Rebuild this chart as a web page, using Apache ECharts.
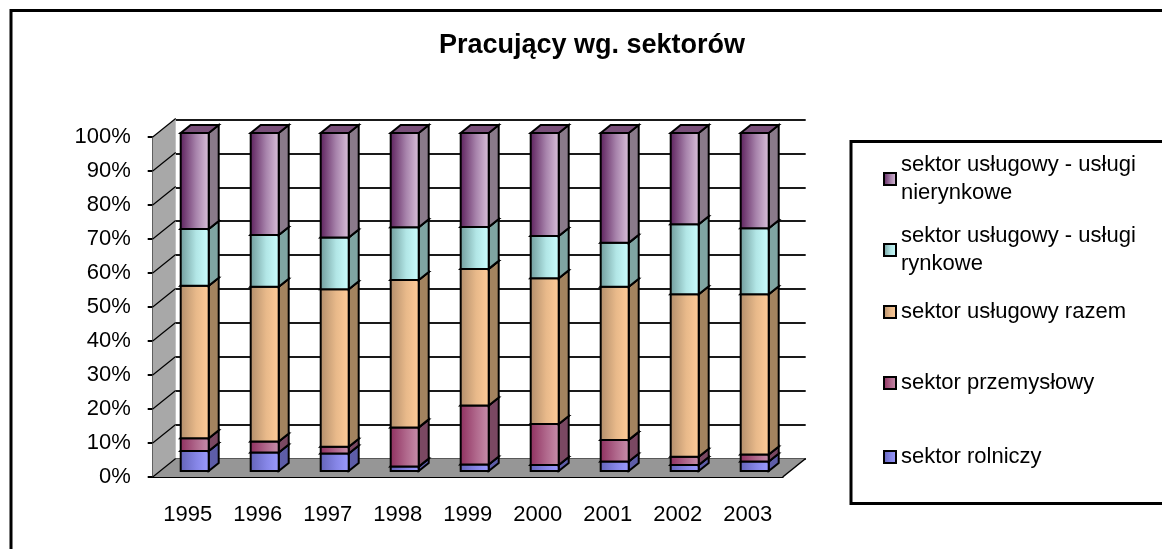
<!DOCTYPE html>
<html>
<head>
<meta charset="utf-8">
<title>Pracujący wg. sektorów</title>
<script src="https://cdn.jsdelivr.net/npm/echarts@6/dist/echarts.min.js"></script>
<style>
  html, body { margin: 0; padding: 0; background: #fff; }
  #chart { width: 1162px; height: 549px; }
</style>
</head>
<body>
<div id="chart"></div>
<script>
// data (share of employed, %)
const years = ['1995', '1996', '1997', '1998', '1999', '2000', '2001', '2002', '2003'];
const rolniczy = [5.9, 5.5, 5.2, 1.3, 1.9, 1.8, 2.8, 1.8, 2.8];
const przemyslowy = [3.8, 3.2, 2.0, 11.6, 17.5, 12.1, 6.4, 2.4, 2.1];
const uslugowyRazem = [45.1, 45.8, 46.6, 43.6, 40.4, 43.1, 45.3, 48.1, 47.4];
const uslugiRynkowe = [16.8, 15.3, 15.3, 15.6, 12.4, 12.5, 13.0, 20.7, 19.5];
const uslugiNierynkowe = [28.4, 30.2, 30.9, 27.9, 27.8, 30.5, 32.5, 27.0, 28.2];
const yTicks = [0, 10, 20, 30, 40, 50, 60, 70, 80, 90, 100];

const FONT = '"Liberation Sans", Arial, sans-serif';
// 3d look
const BAR_DX = 10, BAR_DY = -8;
const WALL_DX = 23, WALL_DY = -18.5;

const sectors = [
  { name: 'sektor rolniczy', values: rolniczy,
    front: ['#6363b8', '#8585e6', '#9c9cff'], side: '#5d5da8', top: '#7a7ad0' },
  { name: 'sektor przemysłowy', values: przemyslowy,
    front: ['#8e2e5e', '#b0688c', '#c890ac'], side: '#7a4862', top: '#9a4c74' },
  { name: 'sektor usługowy razem', values: uslugowyRazem,
    front: ['#b08c6a', '#e8b98a', '#ffcc99'], side: '#a3835f', top: '#c99c72' },
  { name: 'sektor usługowy - usługi rynkowe', values: uslugiRynkowe,
    front: ['#6f9a9a', '#b2e6e6', '#ccffff'], side: '#7fa5a2', top: '#94c4c4' },
  { name: 'sektor usługowy - usługi nierynkowe', values: uslugiNierynkowe,
    front: ['#5a1e5a', '#a884ac', '#dcc4dc'], side: '#8a7a8a', top: '#7a507a' }
];

function hGrad(c) {
  return { type: 'linear', x: 0, y: 0, x2: 1, y2: 0,
    colorStops: [{ offset: 0, color: c[0] }, { offset: 0.55, color: c[1] }, { offset: 1, color: c[2] }] };
}

// 100% stacking
const totals = years.map((y, i) => sectors.reduce((s, sec) => s + sec.values[i], 0));
const bases = years.map(() => 0);
const barSeries = sectors.map(sec => {
  const data = years.map((y, i) => {
    const lo = bases[i];
    const hi = lo + sec.values[i] / totals[i] * 100;
    bases[i] = hi;
    return [i, lo, hi];
  });
  return {
    type: 'custom',
    name: sec.name,
    xAxisIndex: 2,
    yAxisIndex: 2,
    itemStyle: { color: sec.front[2] },
    data: data,
    renderItem: function (params, api) {
      const cat = api.value(0);
      const a = api.coord([cat, api.value(1)]);
      const b = api.coord([cat, api.value(2)]);
      const w = api.size([1, 0])[0] * 0.4;
      const x0 = a[0] - w / 2, x1 = a[0] + w / 2, y0 = a[1], y1 = b[1];
      return {
        type: 'group',
        children: [
          { type: 'polygon',
            shape: { points: [[x1, y0], [x1 + BAR_DX, y0 + BAR_DY], [x1 + BAR_DX, y1 + BAR_DY], [x1, y1]] },
            style: { fill: sec.side, stroke: '#000', lineWidth: 2 } },
          { type: 'polygon',
            shape: { points: [[x0, y1], [x1, y1], [x1 + BAR_DX, y1 + BAR_DY], [x0 + BAR_DX, y1 + BAR_DY]] },
            style: { fill: sec.top, stroke: '#000', lineWidth: 2 } },
          { type: 'rect',
            shape: { x: x0, y: y1, width: w, height: y0 - y1 },
            style: { fill: hGrad(sec.front), stroke: '#000', lineWidth: 2 } }
        ]
      };
    }
  };
});

// side wall + floor, drawn on the front plane
const wallSeries = {
  type: 'custom',
  name: 'walls',
  xAxisIndex: 0,
  yAxisIndex: 0,
  silent: true,
  data: [[0, 0]],
  renderItem: function (params, api) {
    const band = api.size([1, 0])[0];
    const p0 = api.coord([0, 0]);
    const left = p0[0] - band / 2;
    const right = api.coord([years.length - 1, 0])[0] + band / 2;
    const bottom = p0[1];
    const topY = api.coord([0, 100])[1];
    const children = [
      { type: 'polygon',
        shape: { points: [[left, bottom], [left, topY], [left + WALL_DX, topY + WALL_DY], [left + WALL_DX, bottom + WALL_DY]] },
        style: { fill: '#a8a8a8' } },
      { type: 'polygon',
        shape: { points: [[left, bottom], [right, bottom], [right + WALL_DX, bottom + WALL_DY], [left + WALL_DX, bottom + WALL_DY]] },
        style: { fill: '#969696' } },
      { type: 'line',
        shape: { x1: right, y1: bottom, x2: right + WALL_DX, y2: bottom + WALL_DY },
        style: { stroke: '#000', lineWidth: 1.5 } }
    ];
    yTicks.forEach(t => {
      const y = api.coord([0, t])[1];
      children.push({ type: 'line',
        shape: { x1: left, y1: y, x2: left + WALL_DX, y2: y + WALL_DY },
        style: { stroke: '#000', lineWidth: 1.2 } });
    });
    return { type: 'group', children: children };
  }
};

const legendTops = [151, 222, 298, 369, 443];
const legends = sectors.slice().reverse().map((sec, k) => ({
  orient: 'vertical',
  left: 883,
  top: legendTops[k],
  padding: 0,
  itemWidth: 12,
  itemHeight: 12,
  selectedMode: false,
  formatter: name => name.replace(' - usługi ', ' - usługi\n'),
  textStyle: { fontFamily: FONT, fontSize: 22, lineHeight: 28, color: '#000' },
  data: [{ name: sec.name, icon: 'rect',
    itemStyle: { color: hGrad(sec.front), borderColor: '#000', borderWidth: 2 } }]
}));

const chart = echarts.init(document.getElementById('chart'));
chart.setOption({
  backgroundColor: '#fff',
  animation: false,
  title: {
    text: 'Pracujący wg. sektorów',
    left: 587,
    top: 27,
    textAlign: 'center',
    textStyle: { fontFamily: FONT, fontSize: 27, fontWeight: 'bold', color: '#000' }
  },
  legend: legends,
  graphic: [
    { type: 'rect', z: -10, shape: { x: 11, y: 10.5, width: 1200, height: 600 },
      style: { fill: 'none', stroke: '#000', lineWidth: 3 } },
    { type: 'rect', z: -10, shape: { x: 851, y: 141.5, width: 400, height: 362 },
      style: { fill: '#fff', stroke: '#000', lineWidth: 3 } }
  ],
  grid: [
    // front (axis) plane
    { left: 152.7, width: 630, top: 137, bottom: 72 },
    // back wall
    { left: 175.7, width: 630, top: 119.5, bottom: 90.5 },
    // bar front faces
    { left: 159.7, width: 630, top: 133, bottom: 78 }
  ],
  xAxis: [
    { gridIndex: 0, type: 'category', data: years,
      axisLine: { lineStyle: { color: '#000', width: 2 } },
      axisTick: { length: 6, lineStyle: { color: '#000', width: 2 } },
      axisLabel: { margin: 27, fontFamily: FONT, fontSize: 22, color: '#000' } },
    { gridIndex: 1, type: 'category', data: years, show: false },
    { gridIndex: 2, type: 'category', data: years, show: false }
  ],
  yAxis: [
    { gridIndex: 0, type: 'value', min: 0, max: 100, interval: 10,
      axisLine: { show: true, lineStyle: { color: '#000', width: 1.5 } },
      axisTick: { show: true, length: 5, lineStyle: { color: '#000', width: 2 } },
      splitLine: { show: false },
      axisLabel: { margin: 22, formatter: '{value}%', fontFamily: FONT, fontSize: 22, color: '#000' } },
    { gridIndex: 1, type: 'value', min: 0, max: 100, interval: 10,
      axisLine: { show: false }, axisTick: { show: false }, axisLabel: { show: false },
      splitLine: { show: true, lineStyle: { color: '#1a1a1a', width: 2 } } },
    { gridIndex: 2, type: 'value', min: 0, max: 100, show: false }
  ],
  series: [wallSeries].concat(barSeries)
});
</script>
</body>
</html>
